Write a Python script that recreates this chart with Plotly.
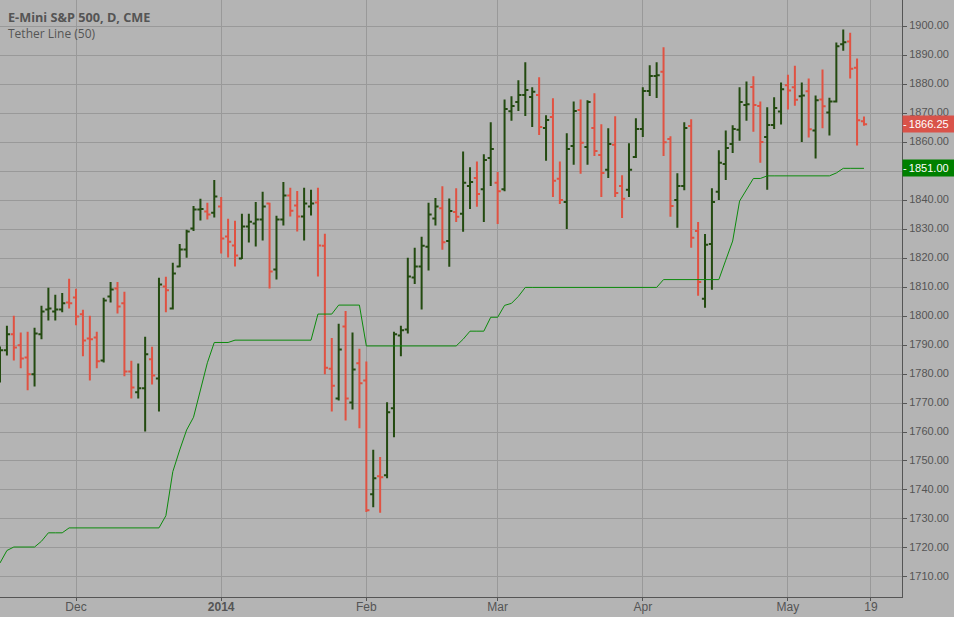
import plotly.graph_objects as go

# daily bars, left to right
opens = [
    1787, 1788.2, 1793.7, 1789.9, 1785.7, 1779.9, 1793.7, 1802.3, 1801.6, 1802.3,
    1804.7, 1806.4, 1800.6, 1792.3, 1792.6, 1784.7, 1806.8, 1809.5, 1804.4, 1780.9,
    1773.7, 1775.1, 1785.1, 1778.5, 1810.2, 1802.6, 1817.1, 1823, 1830.2, 1836.8,
    1836.1, 1835.7, 1837.8, 1827.5, 1824.4, 1819.9, 1830.9, 1832, 1833.3, 1838.9,
    1816.1, 1833.3, 1841.6, 1838.2, 1834.4, 1837.8, 1839.2, 1824.3, 1781.8, 1771.6,
    1796.4, 1770.2, 1783.7, 1777.8, 1738.5, 1744.7, 1745.1, 1768.2, 1793.3, 1795.4,
    1813.3, 1817.1, 1823.9, 1833.7, 1837.2, 1825.9, 1835.9, 1835.3, 1844.9, 1847.7,
    1843.8, 1854.6, 1846, 1843.8, 1870.7, 1873.9, 1876.3, 1875.6, 1876.3, 1864.9,
    1868.7, 1847.4, 1839.4, 1858.7, 1871.1, 1858.4, 1864.9, 1855.6, 1850.5, 1859.1,
    1844.9, 1843.6, 1854.9, 1864.6, 1877.7, 1882.9, 1884.3, 1861.1, 1840.1, 1844.9,
    1865.6, 1829.4, 1806, 1824.9, 1842.9, 1852.5, 1859.4, 1864.3, 1872.9, 1879.1,
    1872.5, 1861.8, 1866, 1870.6, 1879.7, 1879, 1875.9, 1877.6, 1864.1, 1874.8,
    1870.3, 1874.1, 1893.8, 1894.8, 1885.7, 1867.25,
]
highs = [
    1789.5, 1796.7, 1800.1, 1794.3, 1794.6, 1796, 1803.6, 1809.8, 1807.4, 1808,
    1812.9, 1809.4, 1802.2, 1800.1, 1794.6, 1806.3, 1811.8, 1811.8, 1808.4, 1784.6,
    1783.6, 1792.9, 1789.4, 1813.2, 1813.6, 1818.4, 1824.9, 1829.8, 1838, 1840.5,
    1839.1, 1847, 1841.1, 1833.6, 1832.9, 1835.3, 1835.3, 1839.4, 1842.9, 1839.1,
    1834.6, 1846.3, 1844.3, 1843.2, 1844.3, 1843.6, 1844.3, 1828.4, 1792.4, 1797.4,
    1801.8, 1794.3, 1788.7, 1784.3, 1753.9, 1751.4, 1770.3, 1794.6, 1796.7, 1820.1,
    1823.6, 1827.4, 1839.1, 1840.8, 1844.8, 1840.6, 1844.1, 1856.8, 1851.4, 1853.4,
    1855.9, 1866.9, 1849.7, 1874.8, 1875.9, 1881.4, 1887.6, 1879, 1882.4, 1869.3,
    1875.2, 1853.4, 1863.1, 1874.1, 1874.8, 1874.5, 1876.9, 1866.2, 1864.8, 1869,
    1848.6, 1859.7, 1868.3, 1879, 1886.6, 1887.6, 1892.8, 1862.1, 1849.3, 1866.9,
    1867.9, 1832.5, 1828.3, 1844.1, 1857.2, 1864.1, 1865.9, 1879, 1881, 1882.8,
    1874.1, 1872.1, 1875.5, 1880.6, 1883.3, 1886.4, 1880.6, 1882, 1876.1, 1885.1,
    1875.4, 1894.4, 1898.9, 1897.8, 1888.9, 1868.9,
]
lows = [
    1777.1, 1786.4, 1784.7, 1782, 1774.4, 1775.7, 1792, 1798.5, 1798.5, 1801.3,
    1802.6, 1796.8, 1786.1, 1777.8, 1782, 1784, 1804.7, 1800.9, 1779.2, 1771.6,
    1771.6, 1760.2, 1776.4, 1767.1, 1801.3, 1802.3, 1816.9, 1820.1, 1829.4, 1833,
    1833.3, 1834, 1821.6, 1820.2, 1817.1, 1819.7, 1825.4, 1824, 1826.1, 1809.5,
    1812.6, 1831.3, 1834.4, 1829.2, 1826.1, 1834.7, 1813.7, 1779.9, 1767.1, 1770.9,
    1764, 1767.8, 1761.3, 1732.4, 1734, 1732.1, 1744, 1758.2, 1786.1, 1794,
    1811.1, 1802.3, 1815.7, 1831.3, 1822.9, 1817, 1832.5, 1829.1, 1837, 1837.7,
    1832.5, 1844.9, 1831.8, 1843.1, 1867.4, 1870.8, 1869.1, 1865.3, 1862.5, 1853.6,
    1841.1, 1838.7, 1830.1, 1852.2, 1849.1, 1852.2, 1855.3, 1841.1, 1847.7, 1841.1,
    1833.9, 1841.1, 1854.6, 1861.8, 1876, 1875.3, 1855.3, 1834.3, 1830.5, 1843.4,
    1823.6, 1807, 1802.9, 1809.1, 1840.1, 1847, 1856.3, 1860.5, 1867.4, 1863.6,
    1852.9, 1843.6, 1864.6, 1866.1, 1871.3, 1872.6, 1860.1, 1861.6, 1854.4, 1864.8,
    1862.3, 1873.7, 1891.6, 1882, 1858.9, 1865.7,
]
closes = [
    1788.2, 1793.7, 1789.2, 1785.4, 1779.9, 1794, 1801.6, 1802.6, 1802.3, 1804.4,
    1804.4, 1799.9, 1791.6, 1792, 1784.4, 1805.4, 1809.2, 1803.3, 1780.9, 1775.4,
    1775.1, 1786.8, 1779.5, 1810.9, 1808.9, 1814.7, 1823, 1829.2, 1836.8, 1837,
    1835.1, 1841.3, 1826.8, 1825.7, 1820.9, 1830.9, 1832.6, 1833.3, 1837.8, 1815.4,
    1833.3, 1841.6, 1836.4, 1834.4, 1838.9, 1838.9, 1824.4, 1782.2, 1776, 1788.5,
    1771.6, 1781.6, 1776.8, 1733, 1744, 1744.4, 1766.8, 1793.7, 1795.1, 1813.7,
    1817.1, 1824.3, 1835.1, 1837.8, 1825.5, 1836.3, 1834.3, 1846, 1846.3, 1842.1,
    1853.9, 1857.7, 1843.1, 1871.5, 1872.5, 1876.3, 1878, 1877.4, 1865.3, 1867.7,
    1846.7, 1840.1, 1857.7, 1870.8, 1859.8, 1873.9, 1857, 1849.4, 1859.4, 1842.5,
    1840.5, 1850.5, 1864.6, 1877.7, 1882.9, 1883.1, 1860, 1838, 1844.9, 1864.9,
    1827, 1811.8, 1824.6, 1839.4, 1852.9, 1858, 1864.6, 1873.9, 1873.1, 1872.9,
    1860.1, 1866, 1871.8, 1878.3, 1877.9, 1874.7, 1876.1, 1864.5, 1874.5, 1872.4,
    1874.1, 1893.1, 1894.5, 1885.4, 1867.6, 1866.25,
]
tether = [
    1714.8, 1719.1, 1720.3, 1720.3, 1720.3, 1720.3, 1722.3, 1725.2, 1725.2, 1725.2,
    1726.9, 1726.9, 1726.9, 1726.9, 1726.9, 1726.9, 1726.9, 1726.9, 1726.9, 1726.9,
    1726.9, 1726.9, 1726.9, 1726.9, 1731.1, 1746.3, 1753.8, 1760.7, 1765.1, 1774.5,
    1783.9, 1790.9, 1790.9, 1790.9, 1791.7, 1791.7, 1791.7, 1791.7, 1791.7, 1791.7,
    1791.7, 1791.7, 1791.7, 1791.7, 1791.7, 1791.7, 1800.7, 1800.7, 1800.7, 1803.8,
    1803.8, 1803.8, 1803.8, 1789.7, 1789.7, 1789.7, 1789.7, 1789.7, 1789.7, 1789.7,
    1789.7, 1789.7, 1789.7, 1789.7, 1789.7, 1789.7, 1789.7, 1792, 1794.8, 1794.8,
    1794.8, 1799.6, 1799.6, 1803.7, 1804.4, 1806.8, 1809.9, 1809.9, 1809.9, 1809.9,
    1809.9, 1809.9, 1809.9, 1809.9, 1809.9, 1809.9, 1809.9, 1809.9, 1809.9, 1809.9,
    1809.9, 1809.9, 1809.9, 1809.9, 1809.9, 1809.9, 1812.6, 1812.6, 1812.6, 1812.6,
    1812.6, 1812.6, 1812.6, 1812.6, 1812.6, 1819.3, 1825.9, 1839.7, 1843.7, 1847.5,
    1847.5, 1848.4, 1848.4, 1848.4, 1848.4, 1848.4, 1848.4, 1848.4, 1848.4, 1848.4,
    1848.4, 1849.4, 1851, 1851, 1851, 1851,
]
bar_idx = list(range(len(closes)))

# x axis labels sit on bar numbers, the last one is past the data
tick_idx = [11, 32, 53, 72, 93, 114, 126]
tick_labels = ["Dec", "<b>2014</b>", "Feb", "Mar", "Apr", "May", "19"]

bg = "#b4b4b4"
grid = "#999999"
axis_col = "#555555"
up_col = "#234a10"
down_col = "#e05242"

fig = go.Figure()
fig.add_trace(go.Ohlc(
    x=bar_idx,
    open=opens,
    high=highs,
    low=lows,
    close=closes,
    tickwidth=0.45,
    increasing=dict(line=dict(color=up_col, width=2)),
    decreasing=dict(line=dict(color=down_col, width=2)),
    hoverinfo="skip",
))
fig.add_trace(go.Scatter(
    x=bar_idx,
    y=tether,
    mode="lines",
    line=dict(color="#0c8a0c", width=1),
    hoverinfo="skip",
))

# last value boxes on the price axis
for val, col in [(closes[-1], "#d9534a"), (tether[-1], "#008000")]:
    fig.add_annotation(
        xref="paper", x=1, xanchor="left",
        yref="y", y=val, yanchor="middle",
        text="-\u2009%.2f" % val,
        showarrow=False,
        width=52, height=16, borderpad=0, align="left",
        bgcolor=col,
        font=dict(family="Liberation Sans", size=11, color="white"),
    )

fig.add_annotation(
    xref="paper", x=6 / 902, xanchor="left",
    yref="paper", y=1 - 17 / 597, yanchor="middle",
    text="<b>E-Mini S&P 500, D, CME</b>", showarrow=False,
    font=dict(family="Open Sans", size=12.7, color=axis_col),
)
fig.add_annotation(
    xref="paper", x=6 / 902, xanchor="left",
    yref="paper", y=1 - 33 / 597, yanchor="middle",
    text="Tether Line (50)", showarrow=False,
    font=dict(family="Open Sans", size=12, color=axis_col),
)

fig.update_layout(
    width=954,
    height=617,
    margin=dict(l=0, r=52, t=0, b=20),
    paper_bgcolor=bg,
    plot_bgcolor=bg,
    showlegend=False,
    font=dict(family="Liberation Sans", size=12, color=axis_col),
    xaxis=dict(
        range=[0, 130.5],
        rangeslider=dict(visible=False),
        automargin=False,
        tickmode="array",
        tickvals=tick_idx,
        ticktext=tick_labels,
        ticks="outside",
        ticklen=3,
        tickcolor=axis_col,
        ticklabelstandoff=-4,
        showgrid=True,
        gridcolor=grid,
        gridwidth=1,
        showline=True,
        linecolor=axis_col,
        zeroline=False,
    ),
    yaxis=dict(
        side="right",
        range=[1703.05, 1909.1],
        automargin=False,
        tick0=1710,
        dtick=10,
        tickformat=".2f",
        tickfont=dict(size=11),
        ticks="outside",
        ticklen=4,
        tickcolor=axis_col,
        ticklabelshift=-1,
        showgrid=True,
        gridcolor=grid,
        gridwidth=1,
        showline=True,
        linecolor=axis_col,
        zeroline=False,
    ),
)

fig.write_html(
    "out.html",
    config=dict(displayModeBar=False),
    post_script="document.body.style.margin = '0';",
)
